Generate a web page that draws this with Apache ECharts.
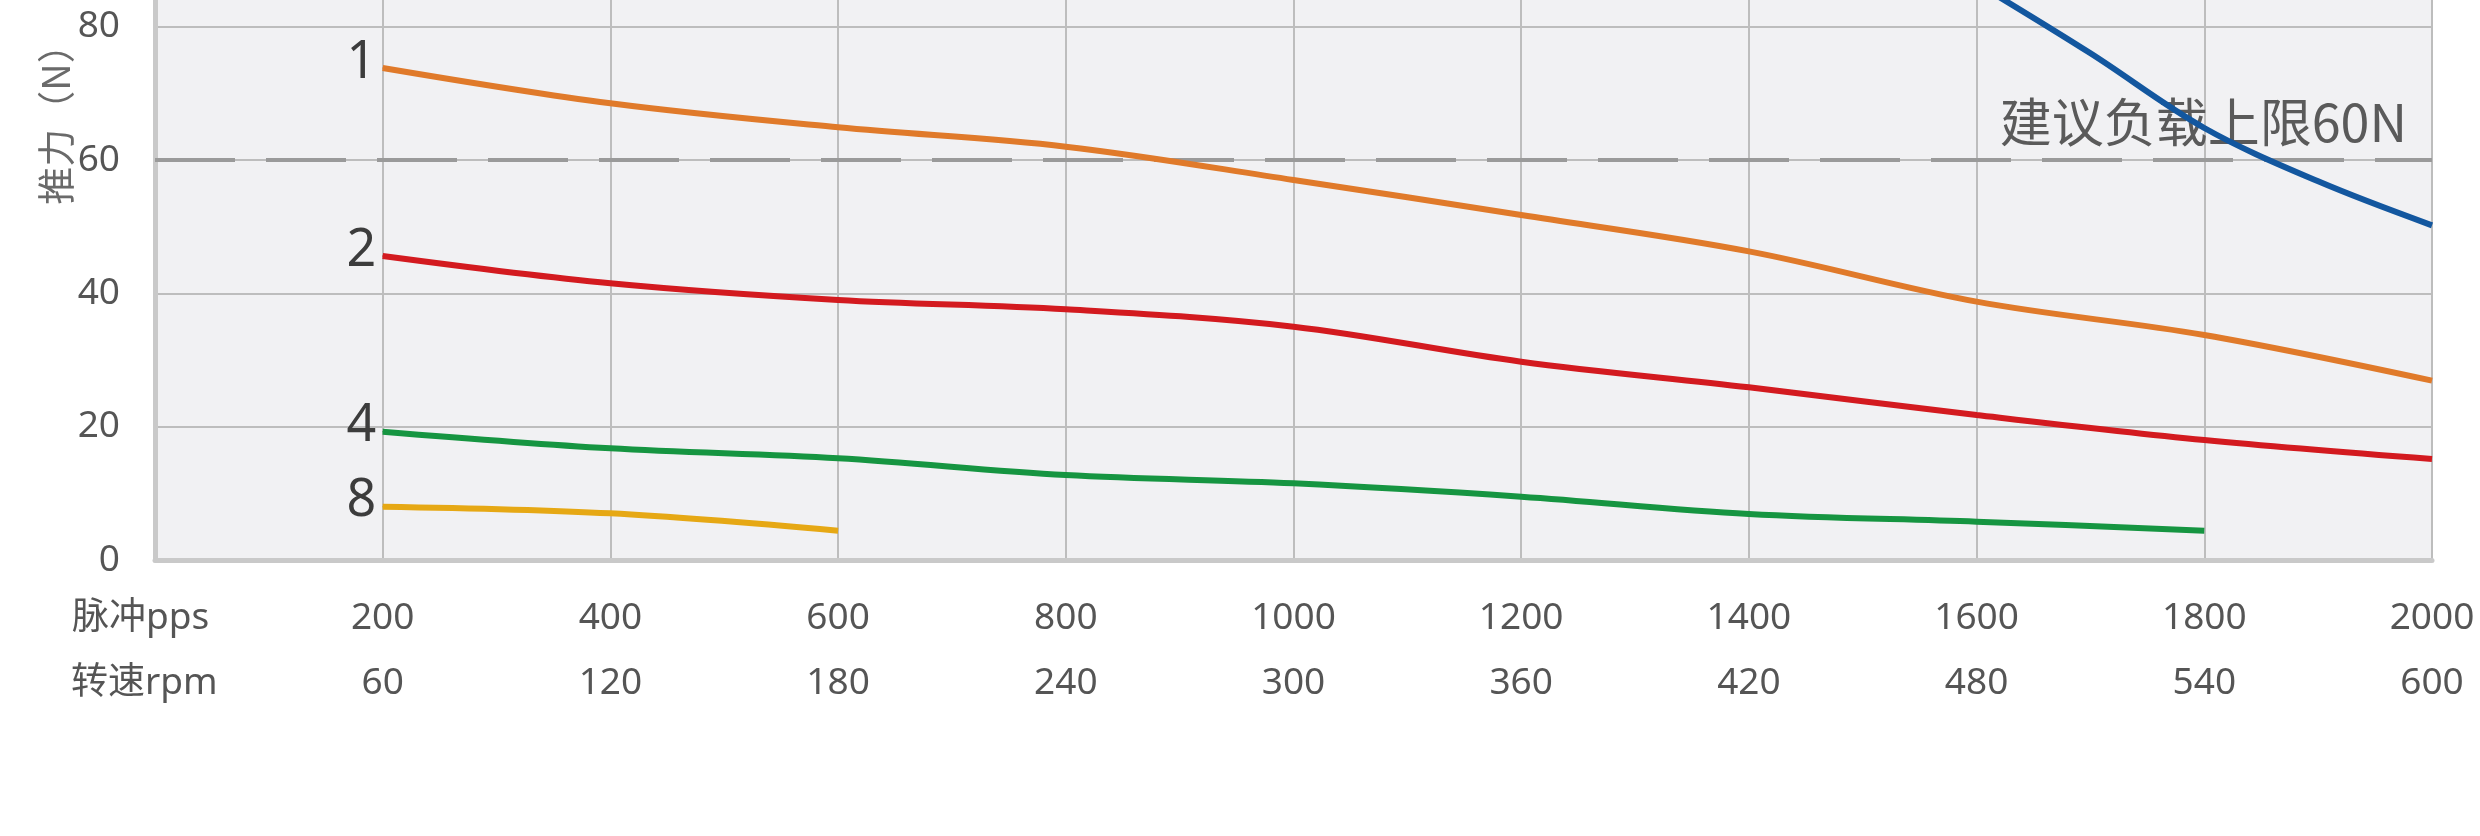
<!DOCTYPE html>
<html>
<head>
<meta charset="utf-8">
<script src="https://cdn.jsdelivr.net/npm/echarts@6/dist/echarts.min.js"></script>
<style>
html,body{margin:0;padding:0;background:#fff;}
#chart{width:2480px;height:836px;}
</style>
</head>
<body>
<div id="chart"></div>
<script>
// ---- data ----
const ppsTicks = [200, 400, 600, 800, 1000, 1200, 1400, 1600, 1800, 2000];
const rpmTicks = [60, 120, 180, 240, 300, 360, 420, 480, 540, 600];
const yTicks = [0, 20, 40, 60, 80];

const pps1 = [200, 400, 600, 800, 1000, 1200, 1400, 1600, 1800, 2000];
const force1 = [73.8, 68.5, 64.9, 62.0, 57.0, 51.75, 46.3, 38.75, 33.75, 26.9];

const pps2 = [200, 400, 600, 800, 1000, 1200, 1400, 1600, 1800, 2000];
const force2 = [45.6, 41.5, 39.0, 37.6, 35.0, 29.75, 25.9, 21.75, 18.0, 15.15];

const pps4 = [200, 400, 600, 800, 1000, 1200, 1400, 1600, 1800];
const force4 = [19.25, 16.75, 15.25, 12.75, 11.5, 9.5, 6.9, 5.75, 4.4];

const pps8 = [200, 400, 600];
const force8 = [8.0, 7.0, 4.4];

const ppsB = [1600, 1700, 1800, 1900, 2000];
const forceB = [86.5, 76.0, 64.8, 56.8, 50.2];

const seriesNames = ['1', '2', '4', '8'];
const limitValue = 60;
const limitText = '建议负载上限60N';
const yName = '推力（N）';
const row1Name = '脉冲pps';
const row2Name = '转速rpm';

// ---- build ----
const FONT = "'Noto Sans', 'Noto Sans CJK SC', sans-serif";
function build(xs, ys, tag) {
  return xs.map((x, i) => {
    if (i === 0 && tag) {
      return {
        value: [x, ys[i]],
        symbol: 'circle',
        symbolSize: 1,
        label: {
          show: true, position: 'left', distance: 6, offset: [0, -5],
          formatter: tag, fontSize: 52, color: '#3c3c3c', fontFamily: FONT
        }
      };
    }
    return [x, ys[i]];
  });
}
function lineSeries(name, xs, ys, color, tag, extra) {
  return Object.assign({
    name: name,
    type: 'line',
    smooth: 0.35,
    symbol: 'none',
    showSymbol: true,
    clip: true,
    data: build(xs, ys, tag),
    lineStyle: { color: color, width: 6 },
    itemStyle: { color: color },
    animation: false,
    z: 5
  }, extra || {});
}

const chart = echarts.init(document.getElementById('chart'));
chart.setOption({
  backgroundColor: '#ffffff',
  animation: false,
  grid: {
    left: 155, right: 48, top: 0, bottom: 276,
    show: true, backgroundColor: '#f1f1f3', borderWidth: 0
  },
  xAxis: [{
    type: 'value', min: 0, max: 2000, interval: 200, position: 'bottom',
    axisLine: { show: true, lineStyle: { color: '#c9c9c9', width: 5 } },
    axisTick: { show: false },
    splitLine: { show: true, lineStyle: { color: '#bdbdbd', width: 2 } },
    axisLabel: {
      showMinLabel: false, margin: 40, fontSize: 37, color: '#555', fontFamily: FONT,
      formatter: v => (ppsTicks.indexOf(v) >= 0 ? String(v) : '')
    }
  }, {
    type: 'value', min: 0, max: 2000, interval: 200, position: 'bottom',
    axisLine: { show: false }, axisTick: { show: false }, splitLine: { show: false },
    axisLabel: {
      showMinLabel: false, margin: 105, fontSize: 37, color: '#555', fontFamily: FONT,
      formatter: v => { const i = ppsTicks.indexOf(v); return i >= 0 ? String(rpmTicks[i]) : ''; }
    }
  }],
  yAxis: {
    type: 'value', min: 0, max: 84, interval: 20,
    axisLine: { show: true, lineStyle: { color: '#c9c9c9', width: 5 } },
    axisTick: { show: false },
    splitLine: { show: true, showMaxLine: false, lineStyle: { color: '#bdbdbd', width: 2 } },
    axisLabel: {
      showMaxLabel: false, margin: 35, fontSize: 37, color: '#555', fontFamily: FONT,
      formatter: v => (yTicks.indexOf(v) >= 0 ? String(v) : '')
    }
  },
  graphic: [
    { type: 'text', x: 72, y: 618, style: { text: row1Name, fontSize: 37, fill: '#555', fontFamily: FONT, verticalAlign: 'middle', align: 'left' } },
    { type: 'text', x: 71, y: 683, style: { text: row2Name, fontSize: 37, fill: '#555', fontFamily: FONT, verticalAlign: 'middle', align: 'left' } },
    { type: 'text', x: 56, y: 115, rotation: Math.PI / 2, style: { text: yName, fontSize: 38, fill: '#6a6a6a', fontFamily: "'Noto Sans CJK SC', sans-serif", verticalAlign: 'middle', align: 'center' } }
  ],
  series: [
    lineSeries('1', pps1, force1, '#e07a2a', seriesNames[0], {
      markLine: {
        silent: true, symbol: ['none', 'none'], animation: false,
        lineStyle: { color: '#9a9a9a', width: 4, type: [80, 31] },
        label: {
          show: true, position: 'insideEndTop', distance: [25, 12],
          formatter: limitText, fontSize: 52, color: '#5a5a5a', fontFamily: "'Noto Sans CJK SC', sans-serif"
        },
        data: [{ yAxis: limitValue }]
      }
    }),
    lineSeries('2', pps2, force2, '#d31a1f', seriesNames[1]),
    lineSeries('4', pps4, force4, '#169541', seriesNames[2]),
    lineSeries('8', pps8, force8, '#e6a814', seriesNames[3]),
    lineSeries('B', ppsB, forceB, '#13579f', null)
  ]
});
</script>
</body>
</html>
